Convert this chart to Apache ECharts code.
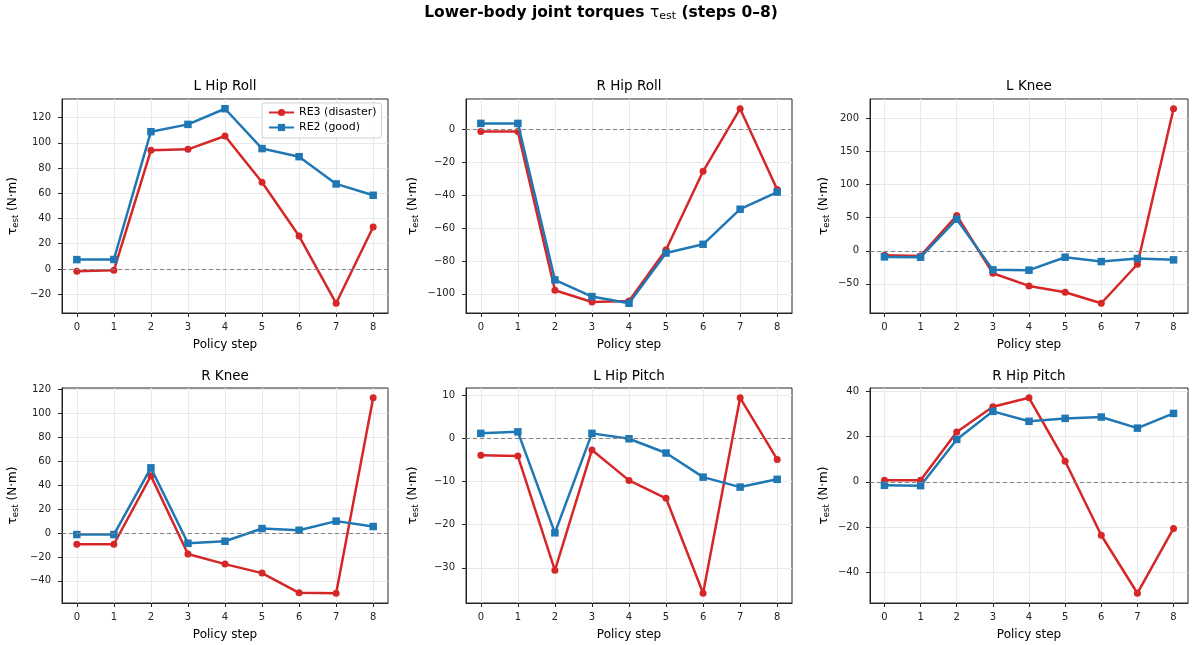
<!DOCTYPE html>
<html>
<head>
<meta charset="utf-8">
<script src="https://cdn.jsdelivr.net/npm/echarts@6/dist/echarts.min.js"></script>
<style>html,body{margin:0;padding:0;background:#fff}#c{width:1196px;height:645px}</style>
</head>
<body>
<div id="c"></div>
<script>
// ---- data ----
const steps = [0, 1, 2, 3, 4, 5, 6, 7, 8];
const seriesNames = ['RE3 (disaster)', 'RE2 (good)'];
const panelTitles = ['L Hip Roll', 'R Hip Roll', 'L Knee', 'R Knee', 'L Hip Pitch', 'R Hip Pitch'];

const lHipRollRE3 = [-1.8, -1.1, 94.0, 94.8, 105.4, 68.7, 26.1, -27.2, 33.3];
const lHipRollRE2 = [7.4, 7.5, 108.8, 114.6, 127.0, 95.4, 89.0, 67.4, 58.4];
const rHipRollRE3 = [-1.4, -1.5, -97.8, -104.9, -104.3, -73.2, -25.6, 12.4, -36.6];
const rHipRollRE2 = [3.5, 3.5, -91.5, -101.6, -105.7, -75.2, -69.9, -48.6, -38.2];
const lKneeRE3 = [-6.7, -7.7, 53.3, -33.9, -53.1, -62.6, -79.3, -20.3, 214.7];
const lKneeRE2 = [-9.2, -9.7, 47.8, -28.8, -29.3, -9.7, -16.3, -11.7, -13.7];
const rKneeRE3 = [-9.4, -9.4, 47.7, -17.6, -26.0, -33.5, -50.0, -50.3, 112.9];
const rKneeRE2 = [-1.3, -1.3, 54.4, -8.6, -6.9, 3.7, 2.3, 9.9, 5.4];
const lHipPitchRE3 = [-3.9, -4.1, -30.6, -2.7, -9.75, -13.9, -35.9, 9.4, -4.9];
const lHipPitchRE2 = [1.15, 1.5, -21.9, 1.15, -0.1, -3.4, -9.0, -11.3, -9.5];
const rHipPitchRE3 = [0.7, 0.7, 22.0, 33.1, 37.1, 9.1, -23.6, -49.2, -20.6];
const rHipPitchRE2 = [-1.55, -1.7, 18.7, 31.1, 26.7, 28.0, 28.6, 23.7, 30.2];

const yTicksLHipRoll = [-20, 0, 20, 40, 60, 80, 100, 120];
const yTicksRHipRoll = [-100, -80, -60, -40, -20, 0];
const yTicksLKnee = [-50, 0, 50, 100, 150, 200];
const yTicksRKnee = [-40, -20, 0, 20, 40, 60, 80, 100, 120];
const yTicksLHipPitch = [-30, -20, -10, 0, 10];
const yTicksRHipPitch = [-40, -20, 0, 20, 40];

const panelRE3 = [lHipRollRE3, rHipRollRE3, lKneeRE3, rKneeRE3, lHipPitchRE3, rHipPitchRE3];
const panelRE2 = [lHipRollRE2, rHipRollRE2, lKneeRE2, rKneeRE2, lHipPitchRE2, rHipPitchRE2];
const panelYTicks = [yTicksLHipRoll, yTicksRHipRoll, yTicksLKnee, yTicksRKnee, yTicksLHipPitch, yTicksRHipPitch];

// ---- layout ----
const FONT = 'DejaVu Sans';
const RED = '#d62728', BLUE = '#1f77b4';
const colLeft = [62, 466, 870];
const colWidth = [326, 326, 318];
const rowTop = [99, 388];
const rowHeight = [214, 215];
const yNameGap = [42, 46, 39];

function fmt(v) { return v < 0 ? '\u2212' + Math.abs(v) : String(v); }

const grids = [], xAxes = [], yAxes = [], series = [], graphics = [];

graphics.push({
  type: 'text', x: 601, y: 13,
  style: {
    text: '{b|Lower-body joint torques }{t|τ}{s|est}{b| (steps 0–8)}',
    textAlign: 'center', textVerticalAlign: 'middle',
    rich: {
      b: { fontFamily: FONT, fontSize: 15.5, fontWeight: 'bold', fill: '#000' },
      t: { fontFamily: FONT, fontSize: 15.5, fill: '#000' },
      s: { fontFamily: FONT, fontSize: 11, fill: '#000', verticalAlign: 'bottom', padding: [6, 0, 0, 0] }
    }
  }
});

for (let i = 0; i < 6; i++) {
  const r = Math.floor(i / 3), c = i % 3;
  const all = panelRE3[i].concat(panelRE2[i]);
  const lo = Math.min(...all), hi = Math.max(...all);
  const pad = (hi - lo) * 0.05;
  grids.push({
    left: colLeft[c], top: rowTop[r], width: colWidth[c], height: rowHeight[r],
    show: true, borderColor: '#262626', borderWidth: 1, backgroundColor: 'transparent',
    containLabel: false
  });
  xAxes.push({
    type: 'value', gridIndex: i, min: -0.4, max: 8.4,
    name: 'Policy step', nameLocation: 'middle', nameGap: 26,
    nameTextStyle: { fontFamily: FONT, fontSize: 12, color: '#000' },
    axisLine: { show: true, onZero: false, lineStyle: { color: '#262626', width: 1 } },
    axisTick: { show: true, customValues: steps, length: 4, lineStyle: { color: '#262626' } },
    axisLabel: { customValues: steps, fontFamily: FONT, fontSize: 10, color: '#222', margin: 9 },
    splitLine: { show: true, lineStyle: { color: '#e9e9e9', width: 1 } }
  });
  yAxes.push({
    type: 'value', gridIndex: i, min: lo - pad, max: hi + pad,
    name: '{t|τ}{s|est}{t| (N·m)}', nameLocation: 'middle', nameRotate: 90,
    nameGap: yNameGap[c],
    nameTextStyle: {
      color: '#000',
      rich: {
        t: { fontFamily: FONT, fontSize: 12, color: '#000' },
        s: { fontFamily: FONT, fontSize: 8.5, color: '#000', verticalAlign: 'bottom', padding: [5, 0, 0, 0] }
      }
    },
    axisLine: { show: true, onZero: false, lineStyle: { color: '#262626', width: 1 } },
    axisTick: { show: true, customValues: panelYTicks[i], length: 4, lineStyle: { color: '#262626' } },
    axisLabel: { customValues: panelYTicks[i], fontFamily: FONT, fontSize: 10, color: '#222', margin: 11, formatter: fmt },
    splitLine: { show: true, lineStyle: { color: '#e9e9e9', width: 1 } }
  });
  series.push({
    name: seriesNames[0], type: 'line', xAxisIndex: i, yAxisIndex: i,
    data: steps.map((s, k) => [s, panelRE3[i][k]]),
    symbol: 'circle', symbolSize: 7, showSymbol: true,
    lineStyle: { color: RED, width: 2.5 }, itemStyle: { color: RED },
    emphasis: { disabled: true }, animation: false, z: 3,
    markLine: {
      silent: true, symbol: 'none', label: { show: false },
      lineStyle: { color: '#808080', type: [4, 3], width: 1 },
      data: [{ yAxis: 0 }], animation: false
    }
  });
  series.push({
    name: seriesNames[1], type: 'line', xAxisIndex: i, yAxisIndex: i,
    data: steps.map((s, k) => [s, panelRE2[i][k]]),
    symbol: 'rect', symbolSize: 7.5, showSymbol: true,
    lineStyle: { color: BLUE, width: 2.5 }, itemStyle: { color: BLUE },
    emphasis: { disabled: true }, animation: false, z: 4
  });
  graphics.push({
    type: 'text', x: colLeft[c] + colWidth[c] / 2, y: r === 0 ? 86 : 376,
    style: { text: panelTitles[i], textAlign: 'center', textVerticalAlign: 'middle',
      font: '13.5px "DejaVu Sans"', fill: '#000' }
  });
}

const chart = echarts.init(document.getElementById('c'), null, { renderer: 'canvas' });
chart.setOption({
  backgroundColor: '#fff',
  animation: false,
  grid: grids, xAxis: xAxes, yAxis: yAxes, series: series,
  graphic: graphics,
  legend: {
    orient: 'vertical', left: 262, top: 103,
    data: seriesNames,
    itemWidth: 25, itemHeight: 9, itemGap: 4,
    backgroundColor: 'rgba(255,255,255,0.85)', borderColor: '#d0d0d0', borderWidth: 1, borderRadius: 3,
    padding: [4, 5, 5, 6],
    textStyle: { fontFamily: FONT, fontSize: 11, color: '#000' }
  },
  tooltip: { show: false }
});
</script>
</body>
</html>
